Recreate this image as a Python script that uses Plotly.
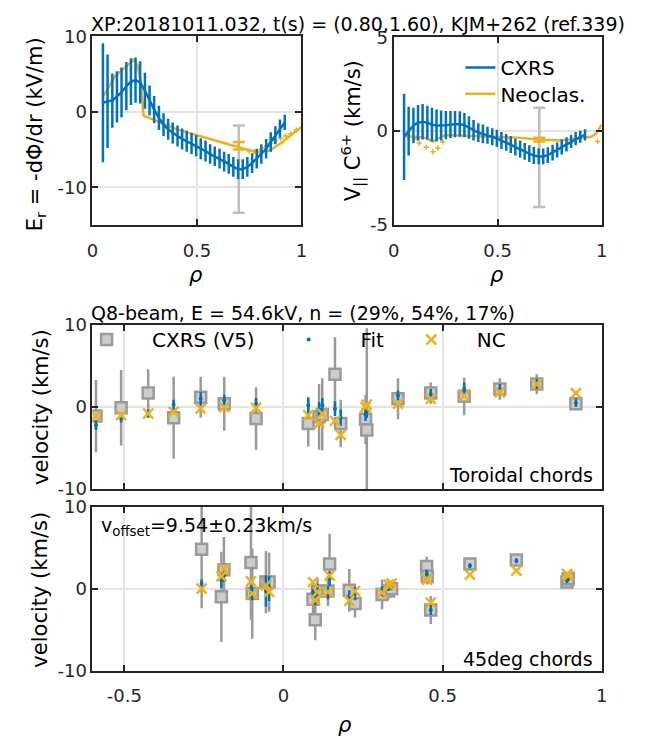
import plotly.graph_objects as go

W, H = 650, 747          # browser window
OFF = 8                  # default page body margin
FW, FH = W - 2 * OFF, H - 2 * OFF
FONT = "DejaVu Sans"
INK = "#262626"
BLUE = "#0072BD"
ORANGE = "#EDB120"
BAR_GRAY = "#9a9a9a"
SQ_FILL = "#cdcdcd"
TYP_GRAY = "#bdbdbd"
GRID = "#e3e3e3"

# ---------------- data: radial profiles ----------------
rho_prof = [0.050, 0.072, 0.095, 0.117, 0.139, 0.162, 0.184, 0.206, 0.228, 0.251,
            0.273, 0.295, 0.318, 0.340, 0.362, 0.384, 0.407, 0.429, 0.451, 0.474,
            0.496, 0.518, 0.541, 0.563, 0.585, 0.608, 0.630, 0.652, 0.674, 0.697,
            0.719, 0.741, 0.764, 0.786, 0.808, 0.831, 0.853, 0.875, 0.897, 0.920]
er_cxrs = [1.2, 1.4, 1.5, 2.0, 2.6, 3.4, 4.0, 4.2, 3.9, 2.8,
           1.5, 0.3, -0.8, -1.7, -2.3, -2.8, -3.2, -3.6, -3.9, -4.2,
           -4.5, -4.9, -5.2, -5.6, -5.9, -6.2, -6.6, -6.9, -7.3, -7.6,
           -7.6, -7.3, -6.8, -6.2, -5.6, -4.9, -4.0, -3.1, -2.2, -1.4]
er_cxrs_err = [7.9, 6.2, 3.6, 3.4, 3.3, 3.2, 3.1, 3.0, 2.8, 2.4,
               2.0, 1.8, 1.6, 1.5, 1.4, 1.4, 1.4, 1.4, 1.4, 1.4,
               1.4, 1.4, 1.4, 1.3, 1.3, 1.3, 1.3, 1.3, 1.3, 1.3,
               1.3, 1.3, 1.3, 1.3, 1.3, 1.3, 1.3, 1.2, 1.2, 1.0]
vpar_cxrs = [-0.3, 0.0, 0.3, 0.45, 0.5, 0.45, 0.35, 0.3, 0.3, 0.32,
             0.35, 0.38, 0.38, 0.32, 0.2, 0.05, -0.08, -0.15, -0.22, -0.3,
             -0.38, -0.5, -0.6, -0.72, -0.85, -0.95, -1.08, -1.2, -1.3, -1.35,
             -1.35, -1.28, -1.15, -1.0, -0.85, -0.7, -0.55, -0.4, -0.3, -0.2]
vpar_cxrs_err = [2.3, 1.3, 0.95, 0.95, 0.95, 0.9, 0.9, 0.85, 0.8, 0.75,
                 0.72, 0.7, 0.68, 0.65, 0.6, 0.55, 0.5, 0.5, 0.45, 0.45,
                 0.45, 0.45, 0.45, 0.45, 0.45, 0.45, 0.45, 0.45, 0.45, 0.42,
                 0.42, 0.42, 0.42, 0.4, 0.4, 0.38, 0.35, 0.35, 0.32, 0.3]

rho_er_nc = [0.05, 0.08, 0.11, 0.14, 0.17, 0.197, 0.215, 0.232, 0.244, 0.30, 0.35,
             0.40, 0.50, 0.60, 0.70, 0.75, 0.80, 0.85, 0.90, 0.95, 1.00]
er_nc = [2.0, 3.4, 4.8, 5.5, 6.2, 6.9, 6.2, 3.9, -0.5, -1.1, -1.7,
         -2.3, -3.1, -4.0, -4.8, -5.1, -5.4, -5.1, -4.2, -3.1, -2.0]
rho_er_nc_pts = [0.75, 0.775, 0.80, 0.825, 0.85, 0.875, 0.90, 0.925, 0.95, 0.975]
er_nc_pts = [-5.2, -5.3, -5.2, -4.8, -4.2, -3.8, -3.5, -3.2, -2.9, -2.4]

rho_v_nc = [0.05, 0.10, 0.15, 0.19, 0.22, 0.25, 0.30, 0.40, 0.50, 0.60, 0.70,
            0.80, 0.90, 0.95, 0.975, 1.00]
vpar_nc = [-0.25, -0.28, -0.35, -0.55, -0.35, -0.2, -0.22, -0.25, -0.28, -0.35, -0.45,
           -0.5, -0.38, -0.3, -0.1, 0.35]
rho_v_nc_pts = [0.07, 0.10, 0.123, 0.157, 0.189, 0.212, 0.236, 0.98]
vpar_nc_pts = [-0.3, -0.4, -0.63, -0.86, -1.1, -0.9, -0.58, -0.55]

typ_rho = [0.70]
er_typ_cxrs, er_typ_cxrs_err = [-7.6], [5.8]
er_typ_nc, er_typ_nc_err = [-4.5], [0.5]
v_typ_cxrs, v_typ_cxrs_err = [-1.4], [2.65]
v_typ_nc, v_typ_nc_err = [-0.45], [0.1]

# ---------------- data: toroidal chords ----------------
tor_rho = [-0.589, -0.51, -0.425, -0.345, -0.26, -0.186, -0.086, 0.078, 0.112, 0.122,
           0.162, 0.18, 0.258, 0.262, 0.36, 0.463, 0.568, 0.68, 0.796, 0.919]
tor_v = [-1.1, -0.1, 1.7, -1.3, 1.2, 0.4, -1.4, -2.0, -1.2, -0.9,
         4.0, -2.0, -1.5, -2.8, 1.0, 1.7, 1.3, 2.2, 2.8, 0.4]
tor_err = [4.4, 4.6, 2.9, 5.0, 2.5, 3.3, 3.8, 2.8, 4.0, 4.4,
           4.5, 2.9, 3.0, 12.4, 2.5, 1.3, 2.3, 1.3, 1.2, 0.6]
tor_fit = [-2.2, -1.4, -0.8, 0.3, 1.0, 0.8, 0.4, 0.2, -0.3, 0.2,
           -0.2, -1.3, -0.9, -0.5, 1.4, 1.6, 2.2, 2.2, 2.8, 0.5]
tor_fit_err = [0.6, 0.5, 0.5, 0.6, 0.8, 0.7, 0.7, 1.0, 0.9, 0.9,
               0.9, 1.0, 0.8, 0.8, 0.6, 0.6, 0.8, 0.6, 0.6, 0.5]
tor_nc = [-1.1, -1.0, -0.8, -0.6, -0.2, 0.0, -0.1, -1.0, -2.0, -0.8,
          -1.7, -3.4, 0.0, 0.3, 0.4, 1.0, 1.4, 1.8, 2.8, 1.7]

# ---------------- data: 45deg chords ----------------
d45_rho = [-0.257, -0.195, -0.187, -0.102, -0.098, -0.055, -0.045, 0.093, 0.100, 0.107,
           0.140, 0.145, 0.207, 0.225, 0.31, 0.33, 0.34, 0.45, 0.452, 0.463,
           0.586, 0.732, 0.891, 0.895]
d45_v = [4.8, -1.0, 2.3, 3.2, -0.6, 0.8, 0.8, -1.3, -3.8, -0.3,
         -0.3, 3.0, -0.2, -1.8, -0.7, -0.3, 0.0, 2.7, 1.5, -2.6,
         3.0, 3.5, 0.8, 1.2]
d45_err = [7.2, 5.5, 4.0, 7.0, 5.5, 3.8, 3.6, 1.8, 2.5, 1.5,
           1.8, 3.7, 2.6, 1.7, 1.8, 1.0, 0.8, 1.2, 1.0, 1.7,
           0.6, 0.5, 0.5, 0.5]
d45_fit = [0.6, 1.0, 1.6, -0.4, -0.6, -0.3, 0.0, -0.5, -1.2, -0.2,
           -0.5, 1.2, -1.0, -0.6, -0.3, 0.2, 0.3, 1.8, 1.5, -2.6,
           2.8, 3.4, 1.0, 1.2]
d45_fit_err = [0.5, 0.9, 0.8, 0.8, 0.8, 1.9, 1.5, 0.8, 0.8, 0.8,
               0.8, 0.9, 0.8, 0.8, 0.6, 0.5, 0.5, 0.5, 0.5, 0.6,
               0.3, 0.3, 0.3, 0.3]
d45_nc = [0.0, 1.5, 2.4, 0.9, -0.6, 0.4, -0.4, 0.8, -1.4, -0.4,
          -0.4, 1.6, -1.5, -0.3, -0.5, 0.5, 0.6, 1.2, 1.1, -1.7,
          1.7, 2.2, 1.8, 1.6]

# ---------------- text ----------------
title_top = "XP:20181011.032, t(s) = (0.80,1.60), KJM+262 (ref.339)"
title_mid = "Q8-beam, E = 54.6kV, n = (29%, 54%, 17%)"
NB = "\u00a0"


def fx(p):  # window pixel -> paper fraction
    return (p - OFF) / FW


def fy(p):
    return 1 - (p - OFF) / FH


fig = go.Figure()


def err(arr, color, thick=2.5, width=0):
    return dict(type="data", array=arr, visible=True, color=color, thickness=thick, width=width)


# ---- top-left: Er ----
fig.add_trace(go.Scatter(x=typ_rho, y=er_typ_cxrs, mode="lines", line=dict(color=TYP_GRAY),
                         error_y=err(er_typ_cxrs_err, TYP_GRAY, 2.5, 6), showlegend=False,
                         xaxis="x", yaxis="y"))
fig.add_trace(go.Scatter(x=typ_rho, y=er_typ_nc, mode="lines", line=dict(color=ORANGE),
                         error_y=err(er_typ_nc_err, ORANGE, 2.5, 6), showlegend=False,
                         xaxis="x", yaxis="y"))
fig.add_trace(go.Scatter(x=rho_er_nc, y=er_nc, mode="lines", line=dict(color=ORANGE, width=2.5),
                         showlegend=False, xaxis="x", yaxis="y"))
fig.add_trace(go.Scatter(x=rho_er_nc_pts, y=er_nc_pts, mode="markers",
                         marker=dict(symbol="cross-thin", size=4, line=dict(color=ORANGE, width=1.5)),
                         showlegend=False, xaxis="x", yaxis="y"))
fig.add_trace(go.Scatter(x=rho_prof, y=er_cxrs, mode="lines", line=dict(color=BLUE, width=2.5),
                         error_y=err(er_cxrs_err, BLUE), showlegend=False, xaxis="x", yaxis="y"))

# ---- top-right: V parallel ----
fig.add_trace(go.Scatter(x=typ_rho, y=v_typ_cxrs, mode="lines", line=dict(color=TYP_GRAY),
                         error_y=err(v_typ_cxrs_err, TYP_GRAY, 2.5, 6), showlegend=False,
                         xaxis="x2", yaxis="y2"))
fig.add_trace(go.Scatter(x=typ_rho, y=v_typ_nc, mode="lines", line=dict(color=ORANGE),
                         error_y=err(v_typ_nc_err, ORANGE, 2.5, 6), showlegend=False,
                         xaxis="x2", yaxis="y2"))
fig.add_trace(go.Scatter(x=rho_v_nc, y=vpar_nc, mode="lines", line=dict(color=ORANGE, width=2.5),
                         name="Neoclas.", legend="legend2", showlegend=True, xaxis="x2", yaxis="y2"))
fig.add_trace(go.Scatter(x=rho_v_nc_pts, y=vpar_nc_pts, mode="markers",
                         marker=dict(symbol="cross-thin", size=4, line=dict(color=ORANGE, width=1.5)),
                         showlegend=False, xaxis="x2", yaxis="y2"))
fig.add_trace(go.Scatter(x=rho_prof, y=vpar_cxrs, mode="lines", line=dict(color=BLUE, width=2.5),
                         error_y=err(vpar_cxrs_err, BLUE), name="CXRS", legend="legend",
                         showlegend=True, xaxis="x2", yaxis="y2"))


# ---- chord panels ----
def chord_panel(xa, ya, rho, v, verr, fit, fiterr, nc, with_legend):
    fig.add_trace(go.Scatter(
        x=rho, y=v, mode="markers",
        marker=dict(symbol="square", size=11, color=SQ_FILL, line=dict(color=BAR_GRAY, width=2.5)),
        error_y=err(verr, BAR_GRAY), name=NB * 4 + "CXRS (V5)", legend="legend3",
        showlegend=with_legend, xaxis=xa, yaxis=ya))
    fig.add_trace(go.Scatter(
        x=rho, y=fit, mode="markers", marker=dict(symbol="circle", size=4, color=BLUE),
        error_y=err(fiterr, BLUE), name=NB * 5 + "Fit", legend="legend4",
        showlegend=with_legend, xaxis=xa, yaxis=ya))
    fig.add_trace(go.Scatter(
        x=rho, y=nc, mode="markers",
        marker=dict(symbol="x-thin", size=10, line=dict(color=ORANGE, width=2.5)),
        name=NB * 4 + "NC", legend="legend5", showlegend=with_legend, xaxis=xa, yaxis=ya))


chord_panel("x3", "y3", tor_rho, tor_v, tor_err, tor_fit, tor_fit_err, tor_nc, True)
chord_panel("x4", "y4", d45_rho, d45_v, d45_err, d45_fit, d45_fit_err, d45_nc, False)

# ---------------- axes ----------------
tickfont = dict(family=FONT, size=18, color=INK)
common = dict(showline=True, linecolor=INK, linewidth=2, mirror="ticks", ticks="inside",
              ticklen=6, tickwidth=2, tickcolor=INK, showgrid=True, gridcolor=GRID,
              gridwidth=2, zeroline=False, tickfont=tickfont, fixedrange=True)
xcommon = dict(common, ticklabelstandoff=8)

fig.update_layout(
    xaxis=dict(domain=[fx(88), fx(301)], anchor="y", range=[0, 1],
               tickvals=[0, 0.5, 1], ticktext=["0", "0.5", "1"], **xcommon),
    yaxis=dict(domain=[fy(220), fy(26)], anchor="x", range=[-15, 10],
               tickvals=[-10, 0, 10], ticktext=["-10", "0", "10"], **common),
    xaxis2=dict(domain=[fx(395), fx(607)], anchor="y2", range=[0, 1],
                tickvals=[0, 0.5, 1], ticktext=["0", "0.5", "1"], **xcommon),
    yaxis2=dict(domain=[fy(220), fy(27)], anchor="x2", range=[-5, 5],
                tickvals=[-5, 0, 5], ticktext=["-5", "0", "5"], **common),
    xaxis3=dict(domain=[fx(88), fx(607)], anchor="y3", range=[-0.6, 1],
                tickvals=[-0.5, 0, 0.5, 1], showticklabels=False, **common),
    yaxis3=dict(domain=[fy(492), fy(323)], anchor="x3", range=[-10, 10],
                tickvals=[-10, 0, 10], ticktext=["-10", "0", "10"], **common),
    xaxis4=dict(domain=[fx(88), fx(607)], anchor="y4", range=[-0.6, 1],
                tickvals=[-0.5, 0, 0.5, 1], ticktext=["-0.5", "0", "0.5", "1"], **xcommon),
    yaxis4=dict(domain=[fy(679), fy(510)], anchor="x4", range=[-10, 10],
                tickvals=[-10, 0, 10], ticktext=["-10", "0", "10"], **common),
)

legfont = dict(family=FONT, size=20, color="#000000")
legbase = dict(xanchor="left", yanchor="middle", bgcolor="rgba(0,0,0,0)", borderwidth=0,
               font=legfont)
fig.update_layout(
    legend=dict(x=fx(463), y=fy(58), **legbase),
    legend2=dict(x=fx(463), y=fy(85), **legbase),
    legend3=dict(x=fx(82), y=fy(338), **legbase),
    legend4=dict(x=fx(288), y=fy(338), **legbase),
    legend5=dict(x=fx(413), y=fy(338), **legbase),
)

# ---------------- annotations ----------------
ann = []


def text(t, x, y, size, xanchor="center", yanchor="middle", angle=0):
    ann.append(dict(text=t, x=fx(x), y=fy(y), xref="paper", yref="paper", showarrow=False,
                    xanchor=xanchor, yanchor=yanchor, textangle=angle,
                    font=dict(family=FONT, size=size, color="#000000")))


text(title_top, 359, 13, 19)
text(title_mid, 303, 311, 19)
text("E<sub>r</sub> = -dΦ/dr (kV/m)", 30, 127, 21, angle=-90)
text("V<sub>||</sub> C<sup>6+</sup> (km/s)", 353, 123, 21, angle=-90)
text("<i>ρ</i>", 194, 272, 21)
text("<i>ρ</i>", 500, 272, 21)
text("<i>ρ</i>", 345, 735, 21)
text("velocity (km/s)", 35, 407, 21, angle=-90)
text("velocity (km/s)", 35, 595, 21, angle=-90)
text("Toroidal chords", 600, 477, 19, xanchor="right")
text("45deg chords", 600, 667, 19, xanchor="right")
text("v<sub>offset</sub>=9.54±0.23km/s", 95, 530, 19, xanchor="left")

fig.update_layout(
    annotations=ann,
    width=FW, height=FH, autosize=False,
    margin=dict(l=0, r=0, t=0, b=0),
    paper_bgcolor="white", plot_bgcolor="white",
    font=dict(family=FONT, color=INK),
)

fig.write_html("out.html")
